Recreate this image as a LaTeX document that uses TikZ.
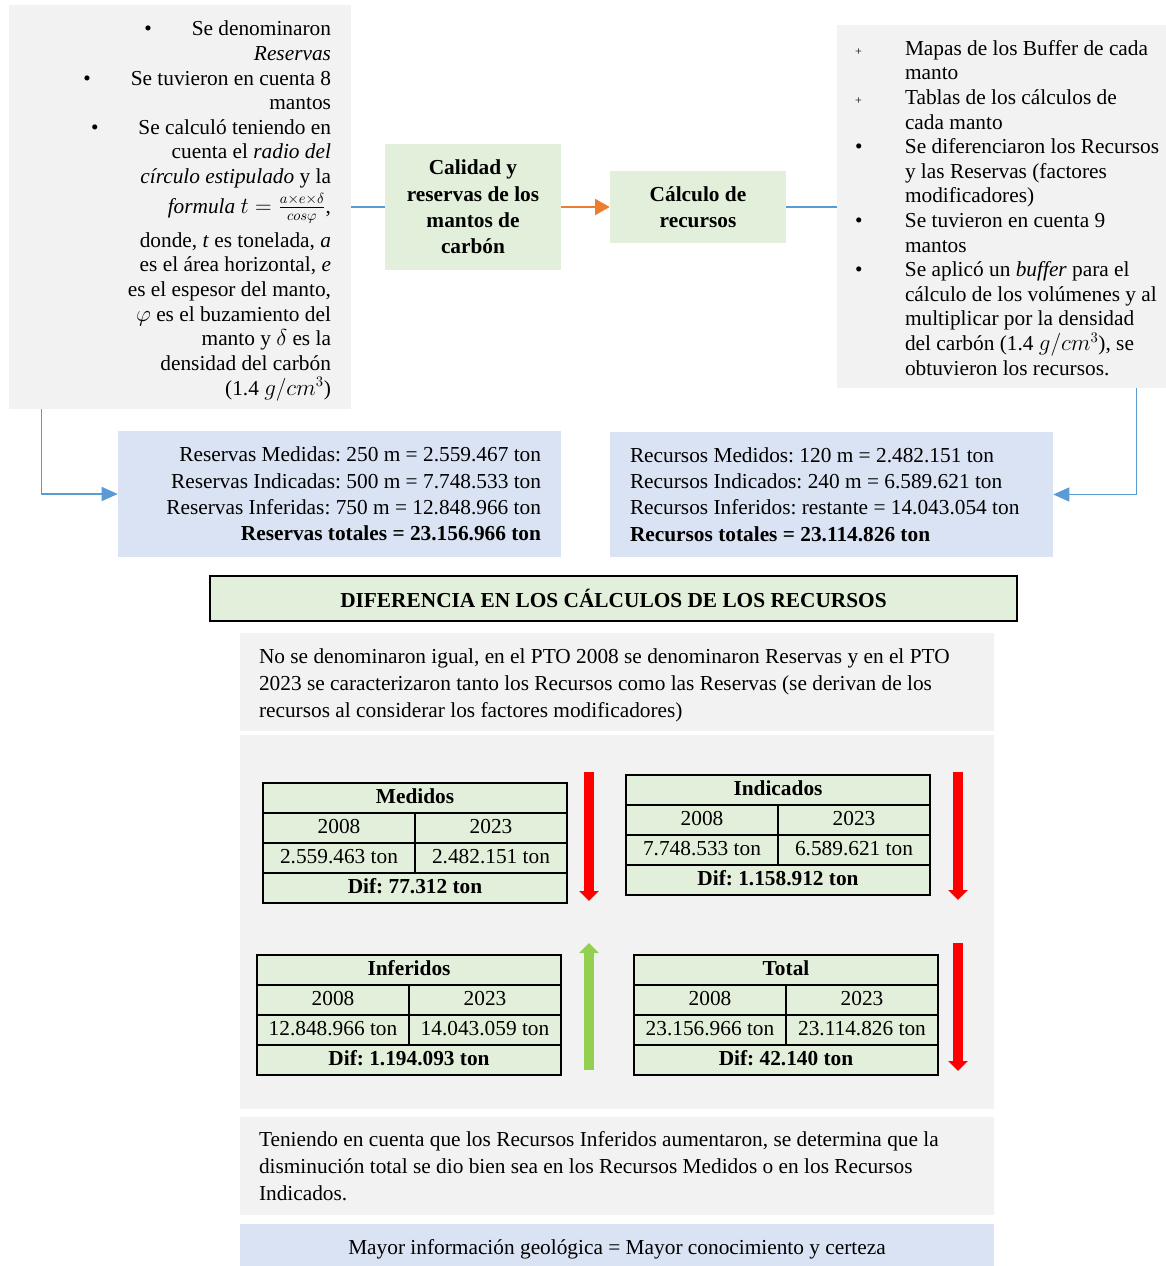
\documentclass[tikz,border=0pt]{standalone}
\usepackage{fontspec}
\setmainfont{Liberation Serif}
\usetikzlibrary{arrows.meta}
\frenchspacing

\definecolor{grisf}{HTML}{F2F2F2}
\definecolor{verdef}{HTML}{E2EFDA}
\definecolor{azulf}{HTML}{DAE3F3}
\definecolor{azull}{HTML}{5B9BD5}
\definecolor{naranja}{HTML}{ED7D31}
\definecolor{verdec}{HTML}{92D050}

% tabla: nombre, x, y (esquina sup. izq.), titulo, 2008, 2023, diferencia
\newcommand{\tabla}[7]{%
  \node[celda, minimum width=228pt, anchor=north west] (#1) at (#2,#3) {\textbf{#4}};
  \node[celda, minimum width=114pt, anchor=north west] (#1a) at (#1.south west) {2008};
  \node[celda, minimum width=114pt, anchor=north west] (#1b) at (#1a.north east) {2023};
  \node[celda, minimum width=114pt, anchor=north west] (#1c) at (#1a.south west) {#5};
  \node[celda, minimum width=114pt, anchor=north west] (#1d) at (#1c.north east) {#6};
  \node[celda, minimum width=228pt, anchor=north west] (#1e) at (#1c.south west) {\textbf{Dif: #7}};
}

\begin{document}
\begin{tikzpicture}[x=0.75pt,y=-0.75pt,
    dim/.style 2 args={minimum width=#1*0.75pt,minimum height=#2*0.75pt},
    gris/.style={fill=grisf,inner sep=0pt,font=\fontsize{16}{20.25}\selectfont},
    verde/.style={fill=verdef,inner sep=0pt,align=flush center,font=\fontsize{16}{19.7}\selectfont\bfseries},
    azul/.style={fill=azulf,inner sep=0pt,font=\fontsize{16}{19.7}\selectfont},
    celda/.style={draw,line width=1.5pt,fill=verdef,minimum height=22.5pt,inner sep=0pt,outer sep=0pt,
      text height=11.5pt,text depth=3pt,font=\fontsize{16}{19}\selectfont},
    conector/.style={azull,line width=1.1pt},
    flechaaz/.style={conector,-{Triangle[length=12pt,width=10.5pt]}},
    flechana/.style={naranja,line width=1.5pt,-{Triangle[length=11pt,width=12pt]}},
    flecharoja/.style={red,line width=7.5pt,-{Triangle[length=7.5pt,width=14.5pt]}},
    flechaverde/.style={verdec,line width=7.5pt,-{Triangle[length=7.5pt,width=14.5pt]}}]
  \useasboundingbox (0,0) rectangle (1166,1266);

  % parte superior
  \node[gris, dim={342}{404}, align=flush right, text width=302*0.75pt, font=\fontsize{16}{18.5}\selectfont] (izq) at (180,207)
    {\rule{0pt}{17pt}\textbullet\hspace{30pt}Se denominaron\\
     \textit{Reservas}\\
     \textbullet\hspace{30pt}Se tuvieron en cuenta 8\\
     mantos\\
     \textbullet\hspace{30pt}Se calculó teniendo en\\
     cuenta el \textit{radio del}\\
     \textit{círculo estipulado} y la\\[3.5pt]
     \textit{formula} $t=\frac{a\times e\times\delta}{cos\varphi}$,\\[5.5pt]
     donde, \textit{t} es tonelada, \textit{a}\\
     es el área horizontal, \textit{e}\\
     es el espesor del manto,\\
     $\varphi$ es el buzamiento del\\
     manto y $\delta$ es la\\
     densidad del carbón\\
     (1.4 $g/cm^3$)};
  \node[verde, dim={176}{126}] (calidad) at (473,207) {Calidad y\\reservas de los\\mantos de\\carbón};
  \node[verde, dim={176}{72}] (calculo) at (698,207) {Cálculo de\\recursos};
  \node[gris, dim={329}{363}, align=flush left, text width=293*0.75pt] (der) at (1001.5,206.5)
    {\noindent\fontsize{16}{18.45}\selectfont
     \begin{tabular}{@{}p{37.5pt}@{}l@{}}
     {\small +}  & \rule{0pt}{18.9pt}Mapas de los Buffer de cada\\
                 & manto\\
     {\small +}  & Tablas de los cálculos de\\
                 & cada manto\\
     \textbullet & Se diferenciaron los Recursos\\
                 & y las Reservas (factores\\
                 & modificadores)\\
     \textbullet & Se tuvieron en cuenta 9\\
                 & mantos\\
     \textbullet & Se aplicó un \textit{buffer} para el\\
                 & cálculo de los volúmenes y al\\
                 & multiplicar por la densidad\\
                 & del carbón (1.4 $g/cm^3$), se\\
                 & obtuvieron los recursos.
     \end{tabular}};

  \node[azul, dim={443}{126}, align=flush right, text width=403*0.75pt] (reservas) at (339.5,494)
    {Reservas Medidas: 250 m = 2.559.467 ton\\
     Reservas Indicadas: 500 m = 7.748.533 ton\\
     Reservas Inferidas: 750 m = 12.848.966 ton\\
     \textbf{Reservas totales = 23.156.966 ton}};
  \node[azul, dim={443}{125}, align=flush left, text width=403*0.75pt] (recursos) at (831.5,494.5)
    {Recursos Medidos: 120 m = 2.482.151 ton\\
     Recursos Indicados: 240 m = 6.589.621 ton\\
     Recursos Inferidos: restante = 14.043.054 ton\\
     \textbf{Recursos totales = 23.114.826 ton}};

  \draw[conector] (izq.east) -- (calidad.west);
  \draw[flechana] (calidad.east) -- (calculo.west);
  \draw[conector] (calculo.east) -- (calculo.east -| der.west);
  \draw[flechaaz] (izq.south west) ++(33,0) |- (reservas.west);
  \draw[flechaaz] (der.south east) ++(-30,0) |- (recursos.east);

  % diferencia
  \node[draw, line width=1.5pt, fill=verdef, dim={807}{45}, inner sep=0pt,
        font=\fontsize{16}{19.7}\selectfont\bfseries] (titulo) at (613.5,598.5)
    {DIFERENCIA EN LOS CÁLCULOS DE LOS RECURSOS};
  \node[gris, dim={754}{98}, align=flush left, text width=716*0.75pt] (nota1) at (617,682)
    {\rule{0pt}{15.5pt}No se denominaron igual, en el PTO 2008 se denominaron Reservas y en el PTO\\
     2023 se caracterizaron tanto los Recursos como las Reservas (se derivan de los\\
     recursos al considerar los factores modificadores)};
  \node[gris, dim={754}{374}] (fondo) at (617,922) {};

  \tabla{med}{263}{783}{Medidos}{2.559.463 ton}{2.482.151 ton}{77.312 ton}
  \tabla{ind}{626}{775}{Indicados}{7.748.533 ton}{6.589.621 ton}{1.158.912 ton}
  \tabla{inf}{257}{955}{Inferidos}{12.848.966 ton}{14.043.059 ton}{1.194.093 ton}
  \tabla{tot}{634}{955}{Total}{23.156.966 ton}{23.114.826 ton}{42.140 ton}

  \draw[flecharoja] (589,772) -- (589,901);
  \draw[flecharoja] (958,772) -- (958,900);
  \draw[flechaverde] (589,1070) -- (589,943);
  \draw[flecharoja] (958,943) -- (958,1071);

  \node[gris, dim={754}{98}, align=flush left, text width=716*0.75pt] (nota2) at (617,1166)
    {Teniendo en cuenta que los Recursos Inferidos aumentaron, se determina que la\\
     disminución total se dio bien sea en los Recursos Medidos o en los Recursos\\
     Indicados.};
  \node[azul, dim={754}{42}, text height=14.5pt, text depth=1pt] (final) at (617,1245)
    {Mayor información geológica = Mayor conocimiento y certeza};
\end{tikzpicture}
\end{document}
